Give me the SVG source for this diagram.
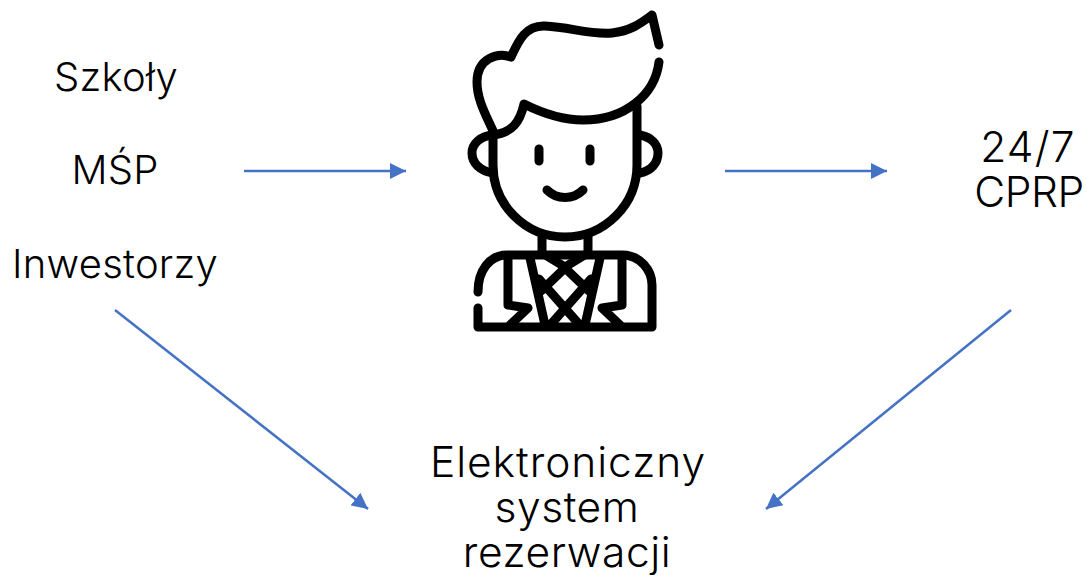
<svg xmlns="http://www.w3.org/2000/svg" width="1087" height="575" viewBox="0 0 1087 575">
<style>
text{font-family:"Inter","Liberation Sans",sans-serif;font-size:40px;font-weight:300;fill:#000;text-anchor:middle;letter-spacing:.25px}
.l{font-size:42.5px;letter-spacing:.55px}
.c{stroke:#4472C4;stroke-width:2.5;fill:none;marker-end:url(#a)}
.p{fill:none;stroke:#000;stroke-width:9;stroke-linecap:round;stroke-linejoin:round}
</style>
<defs><marker id="a" markerUnits="userSpaceOnUse" markerWidth="16" markerHeight="16" refX="16" refY="8" orient="auto"><path d="M0 0L16 8L0 16Z" fill="#4472C4"/></marker></defs>
<rect width="1087" height="575" fill="#fff"/>
<g id="connectors">
<line class="c" x1="244" y1="171" x2="406" y2="171"/>
<line class="c" x1="725" y1="171" x2="887" y2="171"/>
<line class="c" x1="115" y1="310" x2="368" y2="509"/>
<line class="c" x1="1011" y1="310" x2="766" y2="509"/>
</g>
<g id="node-szkoly"><text x="116" y="91">Szkoły</text></g>
<g id="node-msp"><text x="115" y="184">MŚP</text></g>
<g id="node-inwestorzy"><text x="115" y="278">Inwestorzy</text></g>
<g id="node-person">
<path class="p" d="M659 45L652 15C640 24 630 31 612 33C590 35 570 27 545 26C525 25 518 42 511 57C498 52 477 58 477 82C477 100 486 115 494 133"/>
<path class="p" d="M659 62C655 95 625 120 583 120C560 120 540 112 524 104C520 122 512 133 493 135"/>
<path class="p" d="M493 133V165A72 72 0 0 0 637 165V106"/>
<path class="p" d="M493 135C480 136 472 144 472 153C472 163 480 171 493 173"/>
<path class="p" d="M640 135C651 137 658 144 658 153C658 163 651 171 640 173"/>
<path class="p" d="M539 149V161M590 149V161"/>
<path class="p" d="M547 190C557 200 573 200 583 190"/>
<path class="p" d="M542 236V253L565 267L588 253V236"/>
<path class="p" d="M478 292C478 270 490 255 507 255H622C640 255 652 270 652 285V327H478V308"/>
<path class="p" d="M508 258V305L528 308L510 325M622 258V305L602 308L620 325"/>
<path class="p" d="M530 258L545 325M600 258L585 325M565 268L541 291M565 268L589 291M539 279L578 323M591 279L552 323"/>
</g>
<g id="node-cprp"><text class="l" x="1028" y="162" style="letter-spacing:1.2px">24/7</text><text class="l" x="1029" y="207" style="letter-spacing:-.4px">CPRP</text></g>
<g id="node-system"><text class="l" x="568" y="477" style="letter-spacing:.95px">Elektroniczny</text><text class="l" x="567" y="522">system</text><text class="l" x="567" y="567">rezerwacji</text></g>
</svg>
